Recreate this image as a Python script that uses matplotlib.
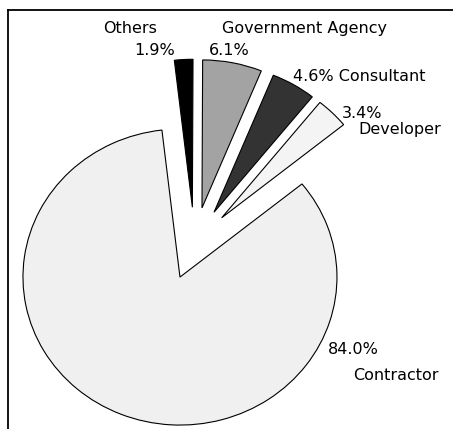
import matplotlib.pyplot as plt
from matplotlib.lines import Line2D

# share of respondents by organisation type
categories = ["Developer", "Consultant", "Government Agency", "Others", "Contractor"]
shares = [3.4, 4.6, 6.1, 1.9, 84.0]
colors = ["#f4f4f4", "#333333", "#a3a3a3", "#000000", "#f0f0f0"]

W, H = 453, 429
fig = plt.figure(figsize=(W / 100, H / 100), dpi=100)
ax = fig.add_axes([0, 0, 1, 1])

wedges, _ = ax.pie(
    shares,
    colors=colors,
    explode=[0.245] * len(shares),
    startangle=39,
    counterclock=True,
    wedgeprops=dict(edgecolor="black", linewidth=0.8),
)

# pie is drawn slightly wider than tall
sx, sy = 157.0, 148.0
cx, cy = 194.5, 243.5
ax.set_aspect("auto")
ax.set_xlim(-cx / sx, (W - cx) / sx)
ax.set_ylim((cy - H) / sy, cy / sy)
ax.axis("off")

# outer frame (top and left edges only visible)
fig.add_artist(Line2D([8 / W, 1.0], [1 - 10 / H, 1 - 10 / H], color="black", lw=1.3))
fig.add_artist(Line2D([8 / W, 8 / W], [0.0, 1 - 10 / H], color="black", lw=1.3))

pct = {c: f"{v:.1f}%" for c, v in zip(categories, shares)}
font = dict(family="DejaVu Sans", fontsize=11.5, va="baseline")


def label(px, py, s, ha="left"):
    fig.text(px / W, 1 - py / H, s, ha=ha, **font)


label(130.5, 33, "Others", ha="center")
label(175, 55, pct["Others"], ha="right")
label(305, 33, "Government Agency", ha="center")
label(209, 55, pct["Government Agency"])
label(293, 81, pct["Consultant"] + " Consultant")
label(342, 118, pct["Developer"])
label(358, 134, "Developer")
label(328, 354, pct["Contractor"])
label(353, 380, "Contractor")

fig.savefig("out.png", dpi=100)
